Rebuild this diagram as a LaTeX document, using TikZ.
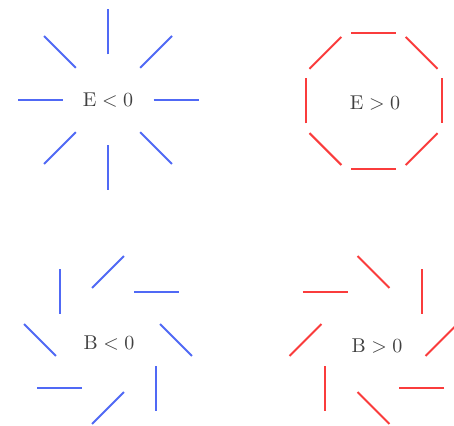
\documentclass[tikz,border=0pt]{standalone}
\usepackage{tikz}
\definecolor{fieldblue}{RGB}{80,105,245}
\definecolor{fieldred}{RGB}{250,60,60}
\tikzset{
  seg/.style={line width=1pt},
  lbl/.style={text=black!75, inner sep=1pt}
}
\begin{document}
\begin{tikzpicture}[x=0.5pt, y=0.5pt]
\useasboundingbox[fill=white] (0,0) rectangle (454,426);
% centres of the four patterns
\coordinate (en) at (108,326);
\coordinate (ep) at (373.5,325);
\coordinate (bn) at (108,86);
\coordinate (bp) at (373.5,86);
\node[lbl] (ten) at (108,326) {$\mathrm{E} < 0$};
\node[lbl] (tep) at (375,323) {$\mathrm{E} > 0$};
\node[lbl] (tbn) at (109,83) {$\mathrm{B} < 0$};
\node[lbl] (tbp) at (377,80) {$\mathrm{B} > 0$};
% E < 0: radial
\foreach \t in {0,45,...,315}
  \draw[seg, fieldblue, shift={(en)}] (\t:45.5) -- (\t:90.5);
% E > 0: tangential
\foreach \t in {0,45,...,315}
  \draw[seg, fieldred, shift={(ep)}, shift={(\t:68)}] (\t+90:22.5) -- (\t-90:22.5);
% B < 0: turned -45
\foreach \t in {0,45,...,315}
  \draw[seg, fieldblue, shift={(bn)}, shift={(\t:68)}] (\t-45:22.5) -- (\t+135:22.5);
% B > 0: turned +45
\foreach \t in {0,45,...,315}
  \draw[seg, fieldred, shift={(bp)}, shift={(\t:68)}] (\t+45:22.5) -- (\t-135:22.5);
\end{tikzpicture}
\end{document}
